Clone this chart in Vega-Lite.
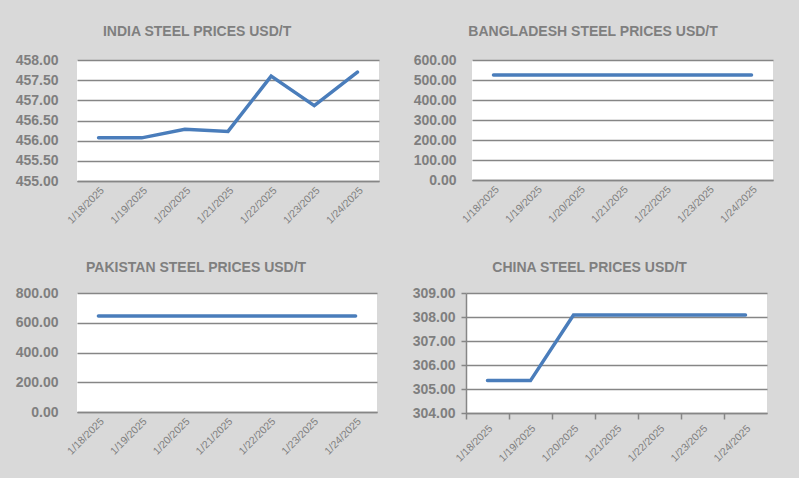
{
  "$schema": "https://vega.github.io/schema/vega-lite/v6.json",
  "background": "#d9d9d9",
  "padding": {"left": 15, "top": 25, "right": 26, "bottom": 16},
  "datasets": {
    "prices": [
      {"country": "India", "date": "1/18/2025", "price": 456.07},
      {"country": "India", "date": "1/19/2025", "price": 456.07},
      {"country": "India", "date": "1/20/2025", "price": 456.28},
      {"country": "India", "date": "1/21/2025", "price": 456.23},
      {"country": "India", "date": "1/22/2025", "price": 457.6},
      {"country": "India", "date": "1/23/2025", "price": 456.87},
      {"country": "India", "date": "1/24/2025", "price": 457.7},
      {"country": "Bangladesh", "date": "1/18/2025", "price": 525},
      {"country": "Bangladesh", "date": "1/19/2025", "price": 525},
      {"country": "Bangladesh", "date": "1/20/2025", "price": 525},
      {"country": "Bangladesh", "date": "1/21/2025", "price": 525},
      {"country": "Bangladesh", "date": "1/22/2025", "price": 525},
      {"country": "Bangladesh", "date": "1/23/2025", "price": 525},
      {"country": "Bangladesh", "date": "1/24/2025", "price": 525},
      {"country": "Pakistan", "date": "1/18/2025", "price": 645},
      {"country": "Pakistan", "date": "1/19/2025", "price": 645},
      {"country": "Pakistan", "date": "1/20/2025", "price": 645},
      {"country": "Pakistan", "date": "1/21/2025", "price": 645},
      {"country": "Pakistan", "date": "1/22/2025", "price": 645},
      {"country": "Pakistan", "date": "1/23/2025", "price": 645},
      {"country": "Pakistan", "date": "1/24/2025", "price": 645},
      {"country": "China", "date": "1/18/2025", "price": 305.35},
      {"country": "China", "date": "1/19/2025", "price": 305.35},
      {"country": "China", "date": "1/20/2025", "price": 308.08},
      {"country": "China", "date": "1/21/2025", "price": 308.08},
      {"country": "China", "date": "1/22/2025", "price": 308.08},
      {"country": "China", "date": "1/23/2025", "price": 308.08},
      {"country": "China", "date": "1/24/2025", "price": 308.08}
    ]
  },
  "vconcat": [
    {
      "hconcat": [
        {
          "title": {"text": "INDIA STEEL PRICES USD/T", "offset": 14},
          "width": 302, "height": 121,
          "data": {"name": "prices"},
          "transform": [{"filter": "datum.country === 'India'"}],
          "mark": {"type": "line", "color": "#4a7dbb", "strokeWidth": 3.5, "strokeCap": "round"},
          "encoding": {
            "x": {"field": "date", "type": "ordinal", "sort": null, "scale": {"type": "point", "padding": 0.5}},
            "y": {"field": "price", "type": "quantitative", "scale": {"domain": [455, 458], "zero": false},
                  "axis": {"values": [455, 455.5, 456, 456.5, 457, 457.5, 458], "labelPadding": 19}}
          }
        },
        {
          "title": {"text": "BANGLADESH STEEL PRICES USD/T", "offset": 14},
          "width": 301, "height": 120,
          "data": {"name": "prices"},
          "transform": [{"filter": "datum.country === 'Bangladesh'"}],
          "mark": {"type": "line", "color": "#4a7dbb", "strokeWidth": 3.5, "strokeCap": "round"},
          "encoding": {
            "x": {"field": "date", "type": "ordinal", "sort": null, "scale": {"type": "point", "padding": 0.5}},
            "y": {"field": "price", "type": "quantitative", "scale": {"domain": [0, 600]},
                  "axis": {"values": [0, 100, 200, 300, 400, 500, 600], "labelPadding": 16}}
          }
        }
      ],
      "spacing": 34
    },
    {
      "hconcat": [
        {
          "title": {"text": "PAKISTAN STEEL PRICES USD/T", "offset": 11},
          "width": 300, "height": 119,
          "data": {"name": "prices"},
          "transform": [{"filter": "datum.country === 'Pakistan'"}],
          "mark": {"type": "line", "color": "#4a7dbb", "strokeWidth": 3.5, "strokeCap": "round"},
          "encoding": {
            "x": {"field": "date", "type": "ordinal", "sort": null, "scale": {"type": "point", "padding": 0.5}},
            "y": {"field": "price", "type": "quantitative", "scale": {"domain": [0, 800]},
                  "axis": {"values": [0, 200, 400, 600, 800], "labelPadding": 19}}
          }
        },
        {
          "title": {"text": "CHINA STEEL PRICES USD/T", "offset": 11},
          "width": 301, "height": 120,
          "data": {"name": "prices"},
          "transform": [{"filter": "datum.country === 'China'"}],
          "mark": {"type": "line", "color": "#4a7dbb", "strokeWidth": 3.5, "strokeCap": "round"},
          "encoding": {
            "x": {"field": "date", "type": "ordinal", "sort": null, "bandPosition": 0.5,
                  "scale": {"type": "band", "paddingInner": 0, "paddingOuter": 0},
                  "axis": {"bandPosition": 0, "ticks": true, "tickSize": 6, "tickColor": "#868686", "tickWidth": 1.5}},
            "y": {"field": "price", "type": "quantitative", "scale": {"domain": [304, 309], "zero": false},
                  "axis": {"values": [304, 305, 306, 307, 308, 309], "domain": true, "domainColor": "#868686", "domainWidth": 1.5, "ticks": true, "tickSize": 5, "tickColor": "#868686", "tickWidth": 1.5, "labelPadding": 6}}
          }
        }
      ],
      "spacing": 35
    }
  ],
  "spacing": 35,
  "config": {
    "view": {"fill": "white", "stroke": null},
    "title": {"font": "Liberation Sans", "fontSize": 14, "fontWeight": "bold", "color": "#7f7f7f", "anchor": "middle", "frame": "bounds"},
    "axis": {"labelFont": "Liberation Sans", "labelColor": "#7f7f7f", "title": null},
    "axisY": {"grid": true, "gridColor": "#868686", "gridWidth": 1.5, "domain": false, "ticks": false, "labelFontSize": 14, "labelFontWeight": "bold", "format": ".2f"},
    "axisX": {"labelAngle": -45, "labelFontSize": 10.5, "domainColor": "#868686", "domainWidth": 1.5, "ticks": false, "grid": false, "labelPadding": 4}
  }
}
